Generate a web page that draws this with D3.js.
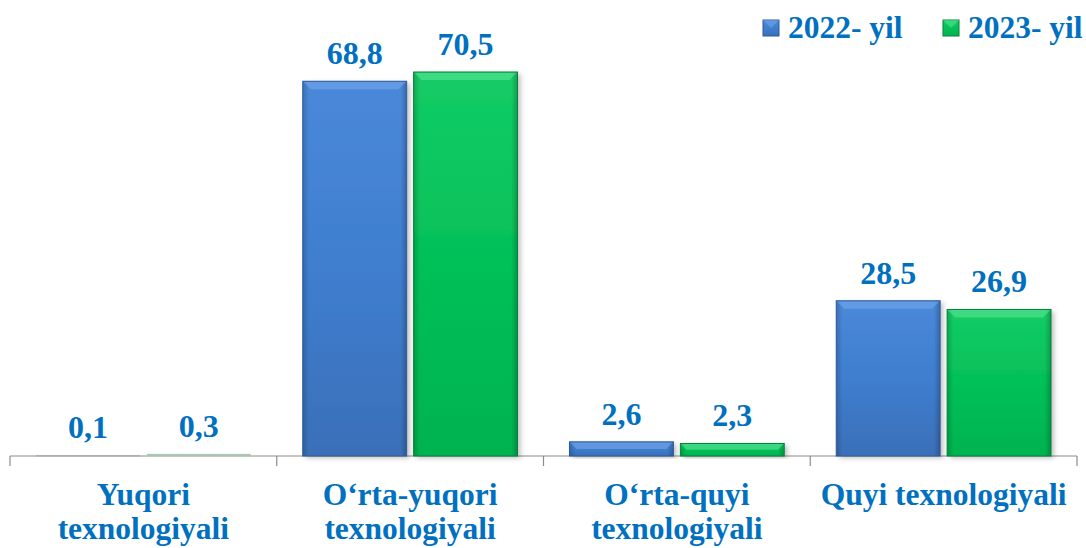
<!DOCTYPE html>
<html><head><meta charset="utf-8">
<script src="https://cdn.jsdelivr.net/npm/d3@7/dist/d3.min.js"></script>
<style>body{margin:0;background:#fff}svg{display:block}</style>
</head><body><svg id="c" width="1086" height="548"></svg>
<script>
const categories = ["Yuqori\ntexnologiyali", "O‘rta-yuqori\ntexnologiyali", "O‘rta-quyi\ntexnologiyali", "Quyi texnologiyali"];
const seriesNames = ["2022- yil", "2023- yil"];
const values2022 = [0.1, 68.8, 2.6, 28.5];
const values2023 = [0.3, 70.5, 2.3, 26.9];
const valueLabels2022 = ["0,1", "68,8", "2,6", "28,5"];
const valueLabels2023 = ["0,3", "70,5", "2,3", "26,9"];

const svg = d3.select("#c");
const left = 10, right = 1077, base = 456;
const textColor = "#0070C0";
const FF = "Liberation Serif";

const x0 = d3.scaleBand().domain(categories).range([left, right]).paddingInner(0).paddingOuter(0);
const x1 = d3.scaleBand().domain(seriesNames).range([26, x0.bandwidth()-26]).paddingInner(0.063).paddingOuter(0);
const y = d3.scaleLinear().domain([0, 70.5]).range([base, 72]);

const defs = svg.append("defs");
const cols = [
  {top:"#4A88DA", mid:"#3F7ECF", bot:"#3A6FB8", edge:"#2C5A99", light:"#78AAEC"},
  {top:"#14CC66", mid:"#04C058", bot:"#03B350", edge:"#07803C", light:"#5EE89A"}
];
cols.forEach((c,i)=>{
  const g = defs.append("linearGradient").attr("id","g"+i).attr("x1",0).attr("y1",0).attr("x2",0).attr("y2",1);
  g.append("stop").attr("offset","0").attr("stop-color",c.top);
  g.append("stop").attr("offset","0.5").attr("stop-color",c.mid);
  g.append("stop").attr("offset","1").attr("stop-color",c.bot);
  const h = defs.append("linearGradient").attr("id","h"+i).attr("x1",0).attr("y1",0).attr("x2",1).attr("y2",0);
  h.append("stop").attr("offset","0").attr("stop-color","#000").attr("stop-opacity",0.18);
  h.append("stop").attr("offset","0.06").attr("stop-color","#000").attr("stop-opacity",0);
  h.append("stop").attr("offset","0.94").attr("stop-color","#000").attr("stop-opacity",0);
  h.append("stop").attr("offset","1").attr("stop-color","#000").attr("stop-opacity",0.22);
});
const f = defs.append("filter").attr("id","sh").attr("x","-10%").attr("y","-10%").attr("width","130%").attr("height","130%");
f.append("feDropShadow").attr("dx",3).attr("dy",2).attr("stdDeviation",2.5).attr("flood-color","#000").attr("flood-opacity",0.25);

// axis
const axis = d3.axisBottom(x0).tickSize(0).tickFormat("");
const ag = svg.append("g").attr("transform",`translate(0,${base})`).call(axis);
ag.select(".domain").attr("stroke","#8c8c8c").attr("stroke-width",1.2).attr("d",`M${left},0H${right}`);
const bounds = [...categories.map(c=>x0(c)), right];
ag.selectAll(".sep").data(bounds).enter().append("line")
  .attr("x1",d=>d).attr("x2",d=>d).attr("y1",0).attr("y2",10)
  .attr("stroke","#8c8c8c").attr("stroke-width",1.2);

const data = categories.map((c,i)=>({c, vals:[values2022[i], values2023[i]], labs:[valueLabels2022[i], valueLabels2023[i]]}));

const grp = svg.append("g").selectAll("g").data(data).enter().append("g")
  .attr("transform",d=>`translate(${x0(d.c)},0)`);

grp.each(function(d){
  const g = d3.select(this);
  d.vals.forEach((v,si)=>{
    const bx = x1(seriesNames[si]), bw = x1.bandwidth();
    const by = y(v), bh = base - y(v);
    const c = cols[si];
    const bg = g.append("g");
    if (bh > 3) {
      bg.append("rect").attr("x",bx).attr("y",by).attr("width",bw).attr("height",bh)
        .attr("fill",`url(#g${si})`).attr("filter","url(#sh)");
      bg.append("rect").attr("x",bx).attr("y",by).attr("width",bw).attr("height",bh).attr("fill",`url(#h${si})`);
      const bv = Math.min(8, bh/2);
      bg.append("path").attr("d",`M${bx+0.5},${by+0.5}L${bx+bw-0.5},${by+0.5}L${bx+bw-bv},${by+bv}L${bx+bv},${by+bv}Z`)
        .attr("fill",c.light).attr("opacity",0.55);
      bg.append("rect").attr("x",bx).attr("y",by).attr("width",bw).attr("height",bh)
        .attr("fill","none").attr("stroke",c.edge).attr("stroke-width",1);
    } else {
      bg.append("rect").attr("x",bx).attr("y",by-0.5).attr("width",bw).attr("height",Math.max(bh,1.5))
        .attr("fill", si ? "#8fbf9f" : "#a9a9a9").attr("opacity",0.8);
    }
    g.append("text").attr("x",bx+bw/2).attr("y",by-17)
      .attr("text-anchor","middle").attr("font-family",FF).attr("font-weight","bold")
      .attr("font-size",32).attr("fill",textColor).text(d.labs[si]);
  });
});

// category labels
const cl = svg.append("g").selectAll("text").data(categories).enter().append("text")
  .attr("x",d=>x0(d)+x0.bandwidth()/2).attr("y",505)
  .attr("text-anchor","middle").attr("font-family",FF).attr("font-weight","bold")
  .attr("font-size",31.5).attr("fill",textColor);
cl.each(function(d){
  const lines = d.split("\n");
  const t = d3.select(this);
  lines.forEach((l,i)=>t.append("tspan").attr("x",x0(d)+x0.bandwidth()/2).attr("dy",i?34:0).text(l));
});

// legend
const lg = svg.append("g");
const legX = [763, 943];
seriesNames.forEach((s,i)=>{
  const c = cols[i];
  lg.append("rect").attr("x",legX[i]).attr("y",20).attr("width",16).attr("height",16)
    .attr("fill",`url(#g${i})`).attr("stroke",c.edge).attr("stroke-width",1);
  lg.append("path").attr("d",`M${legX[i]},${20}L${legX[i]+16},${20}L${legX[i]+8},${28}Z`).attr("fill",c.light).attr("opacity",0.5);
  lg.append("text").attr("x",legX[i]+25).attr("y",38).attr("font-family",FF).attr("font-weight","bold")
    .attr("font-size",31.5).attr("fill",textColor).text(s);
});
</script></body></html>
